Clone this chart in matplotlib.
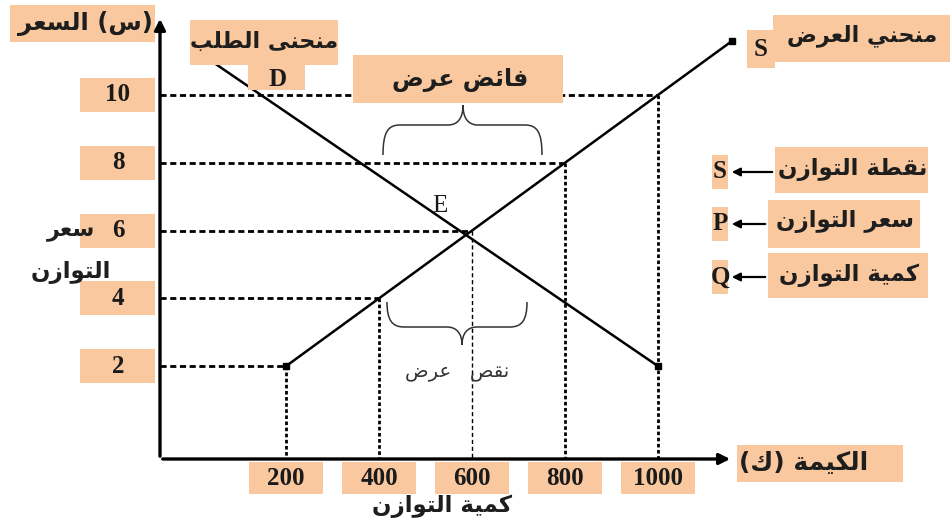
import matplotlib.pyplot as plt
from matplotlib.patches import Rectangle, PathPatch
from matplotlib.path import Path

# ---- data ----
prices = [2, 4, 6, 8, 10]
quantities = [200, 400, 600, 800, 1000]
supply_q = [200, 1160]
supply_p = [2, 11.6]
demand_q = [50, 1000]
demand_p = [10.9, 2]

# ---- minimal arabic shaping (matplotlib has no shaper / bidi) ----
ISO = {'ء': 0xFE80, 'آ': 0xFE81, 'أ': 0xFE83, 'ؤ': 0xFE85, 'إ': 0xFE87, 'ئ': 0xFE89,
       'ا': 0xFE8D, 'ب': 0xFE8F, 'ة': 0xFE93, 'ت': 0xFE95, 'ث': 0xFE99, 'ج': 0xFE9D,
       'ح': 0xFEA1, 'خ': 0xFEA5, 'د': 0xFEA9, 'ذ': 0xFEAB, 'ر': 0xFEAD, 'ز': 0xFEAF,
       'س': 0xFEB1, 'ش': 0xFEB5, 'ص': 0xFEB9, 'ض': 0xFEBD, 'ط': 0xFEC1, 'ظ': 0xFEC5,
       'ع': 0xFEC9, 'غ': 0xFECD, 'ف': 0xFED1, 'ق': 0xFED5, 'ك': 0xFED9, 'ل': 0xFEDD,
       'م': 0xFEE1, 'ن': 0xFEE5, 'ه': 0xFEE9, 'و': 0xFEED, 'ى': 0xFEEF, 'ي': 0xFEF1}
RIGHT_ONLY = set('آأؤإادذرزوةىء')


def ar(s):
    out = []
    for i, c in enumerate(s):
        if c not in ISO:
            out.append(c)
            continue
        prev = s[i - 1] if i > 0 else ''
        nxt = s[i + 1] if i + 1 < len(s) else ''
        jp = prev in ISO and prev not in RIGHT_ONLY
        jn = c not in RIGHT_ONLY and nxt in ISO
        off = 3 if (jp and jn) else 1 if jp else 2 if jn else 0
        out.append(chr(ISO[c] + off))
    mirror = {'(': ')', ')': '('}
    return ''.join(mirror.get(c, c) for c in reversed(out))


# ---- figure: one axes over the whole canvas ----
W, H = 951, 524
XMIN, XMAX = -415, 1630
YMIN, YMAX = -2.655, 12.80
DX = (XMAX - XMIN) / W
DY = (YMAX - YMIN) / H


def px(x, y):
    return XMIN + x * DX, YMAX - y * DY


fig = plt.figure(figsize=(W / 100, H / 100), dpi=100)
ax = fig.add_axes([0, 0, 1, 1])
ax.set_xlim(XMIN, XMAX)
ax.set_ylim(YMIN, YMAX)
ax.axis('off')

PEACH = '#F9C89E'
AR = dict(family='DejaVu Sans', weight='bold', color='#1e1e1e')
SERIF = dict(family='Liberation Serif', weight='bold', color='#1a1a1a')


def box(x0, y0, x1, y1):
    a, b = px(x0, y1)
    ax.add_patch(Rectangle((a, b), (x1 - x0) * DX, (y1 - y0) * DY,
                           facecolor=PEACH, edgecolor='none', zorder=4))


def brace(pts):
    verts = [px(*p) for p in pts]
    codes = [Path.MOVETO] + [Path.CURVE4] * 3 + [Path.LINETO] + [Path.CURVE4] * 6 + \
            [Path.LINETO] + [Path.CURVE4] * 3
    ax.add_patch(PathPatch(Path(verts, codes), fill=False, lw=1.1, color='#333333', zorder=3))


ox, oy = px(160, 459)

# axes with arrows
ax.annotate('', xy=px(160, 16), xytext=(ox, oy),
            arrowprops=dict(arrowstyle='-|>', lw=2.4, color='k', mutation_scale=16), zorder=5)
ax.annotate('', xy=px(733, 459), xytext=(ox, oy),
            arrowprops=dict(arrowstyle='-|>', lw=2.4, color='k', mutation_scale=16), zorder=5)

# dashed guide lines
for p, q in zip(prices, quantities):
    ax.plot([ox, q], [p, p], color='k', lw=2, ls=(0, (2.2, 1.3)), zorder=2)
    if q == 600:
        ax.plot([q, q], [p, oy], color='k', lw=1, ls=(0, (3, 2)), zorder=2)
    else:
        ax.plot([q, q], [p, oy], color='k', lw=2, ls=(0, (1.3, 0.9)), zorder=2)

# supply and demand
ax.plot(supply_q, supply_p, color='k', lw=1.8, marker='s', ms=5, zorder=3)
ax.plot(demand_q, demand_p, color='k', lw=1.8, zorder=3)
ax.plot(demand_q[-1:], demand_p[-1:], color='k', marker='s', ms=5, zorder=3)

# tick labels in boxes
for p in prices:
    box(80, (YMAX - p) / DY - 17, 155, (YMAX - p) / DY + 17)
    ax.text(px(118, 0)[0], p, str(p), ha='center', va='center', fontsize=18, zorder=6, **SERIF)
for q in quantities:
    xc = (q - XMIN) / DX
    box(xc - 37, 462, xc + 37, 494)
    ax.text(q, px(0, 479)[1], str(q), ha='center', va='center', fontsize=18, zorder=6, **SERIF)

# axis titles
box(10, 5, 155, 42)
ax.text(*px(153, 24), ar('(س) السعر'), ha='right', va='center', fontsize=17.5, zorder=6, **AR)
box(737, 445, 903, 482)
ax.text(*px(739, 463), ar('الكيمة (ك)'), ha='left', va='center', fontsize=18, zorder=6, **AR)

# demand label
box(190, 20, 338, 65)
box(248, 65, 305, 90)
ax.text(*px(264, 42), ar('منحنى الطلب'), ha='center', va='center', fontsize=16, zorder=6, **AR)
ax.text(*px(278, 79), 'D', ha='center', va='center', fontsize=18, zorder=6, **SERIF)

# supply label
box(773, 15, 950, 62)
box(747, 30, 775, 68)
ax.text(*px(862, 36), ar('منحني العرض'), ha='center', va='center', fontsize=16, zorder=6, **AR)
ax.text(*px(761, 50), 'S', ha='center', va='center', fontsize=18, zorder=6, **SERIF)

# surplus
box(353, 55, 563, 103)
ax.text(*px(460, 80), ar('فائض عرض'), ha='center', va='center', fontsize=17, zorder=6, **AR)
brace([(383, 155), (383, 132), (388, 125), (400, 125), (448, 125),
       (458, 125), (463, 118), (463, 105), (463, 118), (468, 125), (478, 125),
       (525, 125), (537, 125), (542, 132), (542, 155)])

# shortage
brace([(387, 302), (387, 320), (392, 327), (404, 327), (447, 327),
       (457, 327), (462, 334), (462, 345), (462, 334), (467, 327), (477, 327),
       (510, 327), (522, 327), (527, 320), (527, 302)])
ax.text(*px(457, 373), ar('نقص   عرض'), ha='center', va='center', fontsize=14,
        family='DejaVu Sans', color='#333333', zorder=6)

# equilibrium
ax.text(*px(440, 206), 'E', ha='center', va='center', fontsize=18, zorder=6,
        family='Liberation Serif', color='#1a1a1a')
ax.text(*px(95, 232), ar('سعر'), ha='right', va='center', fontsize=16, zorder=6, **AR)
ax.text(*px(111, 273), ar('التوازن'), ha='right', va='center', fontsize=16.5, zorder=6, **AR)
ax.text(*px(442, 506), ar('كمية التوازن'), ha='center', va='center', fontsize=16.5, zorder=6, **AR)

# right side legend
legend = [('S', 'نقطة التوازن', 172, 775, 928, 147, 193),
          ('P', 'سعر التوازن', 224, 768, 920, 200, 248),
          ('Q', 'كمية التوازن', 277, 768, 928, 253, 298)]
for letter, txt, yc, bx0, bx1, by0, by1 in legend:
    box(bx0, by0, bx1, by1)
    box(712, yc - 17, 728, yc + 17)
    ax.text(*px((bx0 + bx1) / 2 + 1, yc - 2), ar(txt), ha='center', va='center',
            fontsize=16.5, zorder=6, **AR)
    ax.text(*px(720, yc), letter, ha='center', va='center', fontsize=18, zorder=6, **SERIF)
    ax.annotate('', xy=px(729, yc), xytext=px(bx0, yc),
                arrowprops=dict(arrowstyle='-|>', lw=1.6, color='k', mutation_scale=12),
                zorder=7)

plt.savefig('out.png', dpi=100)
